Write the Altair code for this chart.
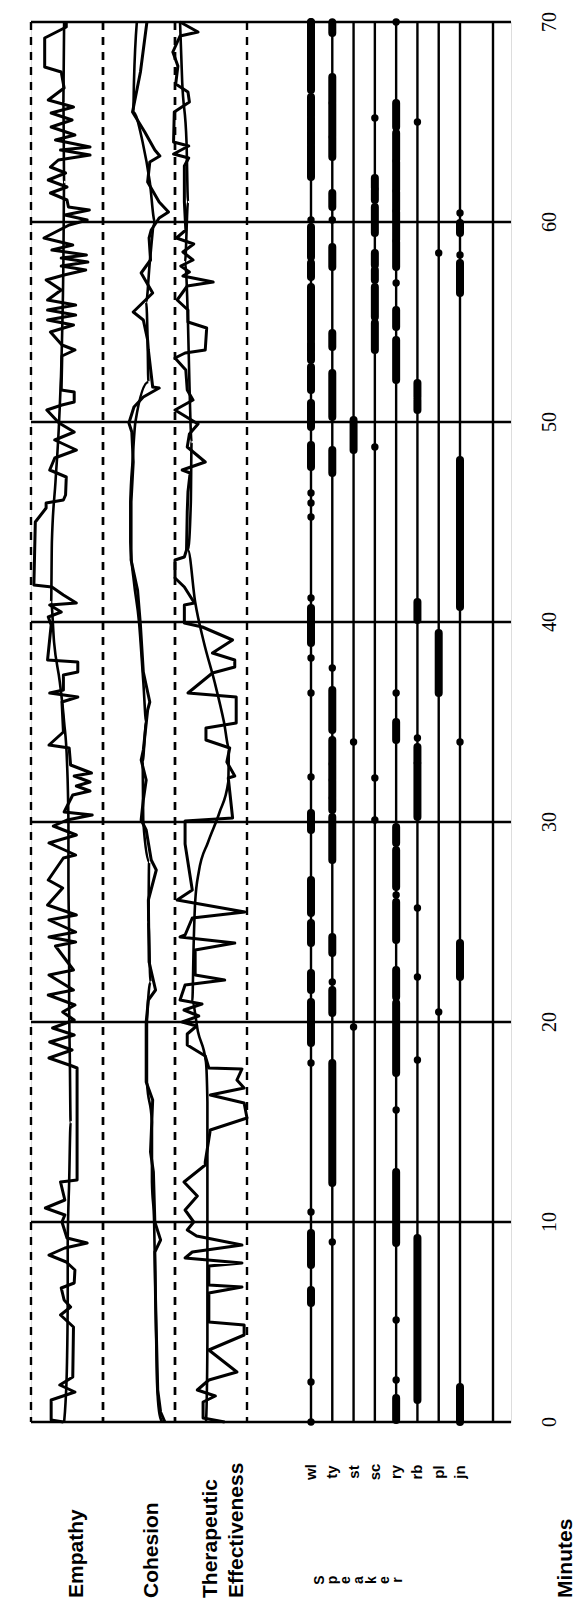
import altair as alt
import pandas as pd

# ---------------- ratings over the session (minute, score 0-10) ----------------
emp_raw = [(70.0, 4.9), (69.75, 4.9), (69.2, 1.9), (67.75, 1.9), (67.5, 4.2), (66.7, 4.6), (66.1, 2.4),
           (65.75, 5.9), (65.45, 2.8), (65.1, 5.7), (64.75, 2.8), (64.35, 6.1), (64.1, 3.4), (63.75, 8.2),
           (63.6, 4.1), (63.35, 8.2), (63.1, 3.8), (62.75, 2.7), (62.45, 4.8), (62.1, 2.4), (61.75, 5.0),
           (61.45, 2.7), (61.1, 5.0), (60.75, 5.2), (60.6, 8.1), (60.35, 4.7), (60.1, 7.8), (59.85, 5.3),
           (59.2, 1.8), (58.85, 5.8), (58.6, 2.9), (58.35, 7.7), (58.2, 4.2), (58.0, 7.9), (57.8, 4.2),
           (57.6, 7.6), (57.35, 4.6), (57.1, 2.1), (56.6, 4.2), (56.1, 2.3), (55.85, 6.2), (55.6, 2.3),
           (55.35, 6.2), (55.1, 2.3), (54.85, 5.9), (54.5, 2.7), (53.85, 4.3), (53.6, 6.1), (53.3, 4.3),
           (51.6, 4.2), (51.5, 6.0), (51.0, 6.0), (50.85, 4.3), (50.6, 2.2), (49.95, 3.9), (49.5, 6.0),
           (49.1, 3.3), (48.6, 6.3), (48.2, 3.3), (47.6, 2.6), (47.25, 4.9), (46.35, 4.8), (46.1, 4.5),
           (45.95, 2.1), (45.7, 2.1), (45.0, 0.6), (41.85, 0.4), (41.75, 2.9), (41.35, 4.5), (40.95, 6.3),
           (40.85, 2.6), (40.5, 4.2), (40.25, 2.4), (39.85, 2.8), (38.1, 2.3), (38.0, 6.5), (37.5, 6.5),
           (37.35, 4.5), (36.6, 4.5), (36.45, 2.6), (36.25, 6.5), (36.0, 4.3), (34.5, 4.5), (33.85, 2.5),
           (33.7, 5.3), (32.85, 5.5), (32.45, 8.4), (32.3, 6.0), (32.0, 8.2), (31.8, 6.3), (31.55, 8.2),
           (31.35, 5.8), (30.5, 4.6), (30.35, 8.5), (30.1, 5.0), (29.8, 3.1), (29.35, 6.3), (28.95, 2.5),
           (28.35, 6.2), (28.2, 4.5), (27.1, 2.4), (26.7, 4.4), (25.85, 2.3), (25.35, 6.3), (25.1, 2.5),
           (24.5, 6.2), (24.25, 2.5), (24.0, 6.2), (23.8, 3.4), (22.6, 5.9), (22.35, 2.5), (21.6, 5.9),
           (21.35, 2.4), (20.85, 6.1), (20.5, 4.4), (20.1, 6.0), (19.7, 3.0), (19.35, 6.0), (19.0, 2.6),
           (18.6, 5.7), (18.2, 2.5), (17.8, 5.7), (17.7, 6.4), (12.1, 6.4), (12.0, 4.1), (11.1, 4.7),
           (10.7, 2.0), (10.35, 4.7), (10.0, 4.3), (9.2, 5.0), (8.95, 7.8), (8.7, 4.7), (8.35, 2.5),
           (8.0, 4.9), (7.6, 6.1), (6.95, 6.0), (6.7, 4.2), (6.1, 4.6), (5.75, 5.5), (5.35, 4.1),
           (4.75, 5.9), (2.25, 5.8), (1.85, 4.0), (1.5, 6.1), (1.1, 2.8), (0.1, 2.8), (0.0, 4.5)]
emp_smooth = [(70, 4.6), (66, 4.5), (62, 4.6), (58, 4.5), (54, 4.3), (50, 3.9), (47, 3.4), (44, 2.9),
              (41, 2.8), (39, 3.2), (37, 4.0), (35, 4.6), (33, 5.0), (30, 5.2), (27, 5.2), (24, 5.3),
              (21, 5.3), (18, 5.4), (15, 5.5), (12, 5.3), (9, 5.1), (6, 5.1), (3, 5.0), (1, 4.8), (0, 4.6)]

coh_raw = [(70, 6.1), (67.5, 5.2), (65.5, 4.1), (64.5, 5.8), (63.6, 7.2), (63.3, 7.9), (63.0, 6.5),
           (62.0, 6.2), (61.0, 7.8), (60.5, 9.1), (60.2, 7.8), (59.6, 6.7), (59.2, 6.4), (58.1, 6.6),
           (57.45, 5.3), (56.45, 6.9), (55.5, 4.2), (55.1, 5.6), (54.1, 6.2), (53.6, 6.3), (51.75, 6.9),
           (51.7, 7.8), (51.25, 5.6), (50.75, 4.3), (49.95, 3.6), (49.5, 4.0), (48, 4.2), (46, 3.9),
           (44, 3.9), (43.1, 3.9), (41.6, 4.8), (39.85, 5.2), (37.5, 5.6), (36.0, 6.5), (35.6, 6.2),
           (33.6, 5.6), (33.1, 5.3), (32.1, 6.0), (31.1, 5.6), (30.1, 5.3), (29.6, 6.0), (28.1, 6.7),
           (27.6, 7.4), (26.1, 6.3), (23, 6.4), (21.6, 7.3), (21.1, 6.3), (20, 6.0), (17, 6.0),
           (16.1, 6.9), (13.5, 6.6), (12.5, 7.0), (10, 7.2), (9.1, 8.0), (8.5, 7.2), (6.1, 7.3),
           (1.6, 7.6), (0.5, 8.0), (0, 8.6)]
coh_smooth = [(70, 4.7), (67, 4.3), (65.5, 4.2), (64, 5.5), (62, 6.5), (60, 7.2), (58, 6.5), (56, 6.0),
              (54, 6.2), (52, 6.3), (50, 4.5), (48, 4.1), (46, 3.8), (44, 3.8), (42, 4.3), (40, 5.0),
              (37, 5.6), (35, 6.0), (33, 5.5), (30, 5.6), (28, 6.4), (25, 6.3), (22, 6.6), (20, 6.1),
              (17, 6.1), (15, 6.8), (12, 6.8), (10, 7.1), (6, 7.3), (2, 7.5), (0.5, 7.8), (0, 8.2)]

te_raw = [(70.0, 0.7), (69.5, 3.2), (69.3, 0.7), (68.5, -0.3), (67.8, 0.4), (66.9, 0.1), (66.5, 1.8),
          (66.0, 2.0), (65.5, -0.1), (64.0, -0.2), (63.8, 1.9), (63.4, -0.2), (63.2, 1.9), (62.8, 1.3),
          (61.0, 1.3), (59.6, 1.5), (59.2, 0.2), (58.9, 2.6), (58.5, 1.1), (58.1, 2.5), (57.8, 0.8),
          (57.5, 2.0), (57.3, 1.1), (57.0, 5.3), (56.8, 1.7), (56.1, 0.3), (55.6, 1.8), (55.0, 1.8),
          (54.7, 4.4), (53.6, 4.2), (53.45, 1.4), (53.2, 0.0), (52.6, 1.5), (51.6, 1.7), (51.1, 2.5),
          (50.6, 0.0), (49.9, 3.2), (49.4, 2.0), (48.75, 1.7), (48.0, 4.2), (47.6, 1.0), (47.45, 2.1),
          (46.5, 1.8), (45.5, 1.7), (43.6, 1.6), (43.25, 1.3), (43.1, 0.0), (42.2, 0.0), (41.75, 1.3),
          (40.95, 2.7), (40.85, 1.3), (39.95, 1.3), (39.75, 3.8), (39.1, 8.0), (38.45, 5.2), (38.1, 8.3),
          (37.75, 8.3), (37.45, 5.2), (36.45, 1.8), (36.25, 8.5), (34.95, 8.5), (34.7, 4.3), (34.1, 4.3),
          (33.7, 7.6), (33.0, 7.2), (32.3, 8.3), (32.2, 7.4), (30.2, 8.0), (30.05, 1.4), (28.9, 1.4),
          (26.6, 2.4), (26.1, 0.3), (25.5, 9.7), (25.2, 2.4), (24.35, 1.4), (24.25, 0.7), (23.95, 8.3),
          (23.6, 2.8), (22.35, 2.8), (22.1, 6.9), (21.85, 1.4), (21.1, 0.7), (20.9, 3.75), (20.6, 1.25),
          (20.3, 3.3), (20.0, 1.0), (19.8, 3.0), (19.4, 1.7), (18.85, 1.7), (18.3, 4.2), (17.7, 4.7),
          (17.65, 9.3), (17.1, 8.6), (16.7, 9.6), (16.35, 4.9), (15.95, 9.6), (15.2, 10.0), (14.6, 4.9),
          (13.0, 4.2), (12.85, 4.2), (12.0, 1.25), (11.3, 3.1), (10.6, 1.4), (10.0, 2.6), (9.6, 1.7),
          (9.3, 3.0), (8.85, 9.3), (8.5, 2.4), (8.2, 1.4), (7.95, 9.3), (7.8, 4.7), (6.85, 4.7),
          (6.75, 9.3), (6.45, 4.7), (5.0, 4.7), (4.85, 9.6), (4.35, 9.6), (3.6, 4.7), (2.5, 8.6),
          (2.1, 4.7), (1.6, 3.1), (1.3, 5.6), (1.0, 3.9), (0.2, 3.9), (0.0, 6.9)]
te_smooth = [(70, 0.7), (67, 1.0), (64, 1.6), (61, 1.8), (58, 1.4), (55, 1.8), (52, 2.0), (49, 2.3),
             (46, 2.2), (43.6, 1.8), (41, 2.8), (39, 4.0), (37, 5.5), (35, 6.8), (33.7, 7.5), (32, 7.4),
             (30.5, 6.2), (29, 4.6), (27.5, 3.3), (26, 2.8), (24, 2.6), (21, 2.4), (19.5, 3.2), (18, 4.3),
             (16, 4.5), (12, 4.5), (8, 4.5), (4, 4.5), (1, 4.4), (0, 4.3)]

# ---------------- who is speaking: (from minute, to minute) and short remarks ----------------
speakers = ["wl", "ty", "st", "sc", "ry", "rb", "pl", "jn"]
turns = {
    "wl": [(66.6, 70.0), (65.3, 66.25), (64.6, 65.2), (63.9, 64.5), (63.1, 63.8), (62.25, 63.0),
           (58.25, 59.75), (57.25, 57.95), (54.1, 56.75), (53.55, 53.95), (53.1, 53.45), (51.6, 52.75),
           (49.75, 50.95), (47.75, 48.85), (38.95, 40.7), (29.6, 30.45), (25.45, 27.1), (23.95, 24.95),
           (21.6, 22.45), (18.95, 21.0), (7.85, 9.45), (6.3, 6.6), (5.95, 6.25)],
    "ty": [(69.45, 69.95), (66.0, 67.25), (64.3, 65.9), (63.25, 64.2), (60.75, 61.45), (57.75, 58.75),
           (53.75, 54.45), (50.25, 52.45), (47.45, 48.6), (34.6, 36.6), (32.95, 34.1), (32.15, 32.85),
           (31.25, 32.05), (30.6, 31.15), (28.1, 30.25), (23.45, 24.25), (20.45, 21.6), (11.95, 17.95)],
    "st": [(48.6, 50.1)],
    "sc": [(61.7, 62.2), (61.1, 61.6), (59.45, 60.75), (57.85, 58.45), (57.1, 57.6), (55.25, 56.75),
           (53.6, 54.95)],
    "ry": [(64.75, 65.95), (63.1, 64.45), (61.6, 63.0), (60.6, 61.5), (59.1, 60.5), (57.75, 59.0),
           (54.75, 55.6), (52.1, 54.1), (34.1, 35.0), (28.95, 29.75), (26.75, 28.6), (24.1, 26.0),
           (21.25, 22.6), (17.45, 20.95), (8.95, 12.5), (0.1, 1.2)],
    "rb": [(51.25, 51.95), (50.6, 51.1), (40.1, 41.0), (33.0, 33.75), (30.25, 32.9), (1.1, 9.2)],
    "pl": [(36.45, 39.45)],
    "jn": [(59.45, 59.95), (56.45, 57.95), (40.75, 48.1), (22.25, 23.95), (0.0, 1.75)],
}
remarks = {
    "wl": [70.0, 60.1, 46.45, 45.95, 45.25, 41.2, 38.2, 36.45, 32.25, 17.95, 10.5, 2.0, 0.0],
    "ty": [70.0, 60.1, 37.7, 22.0, 9.0],
    "st": [34.0, 19.75],
    "sc": [65.2, 48.75, 32.2, 30.1],
    "ry": [70.0, 56.95, 36.45, 26.35, 15.6, 5.1, 2.1],
    "rb": [65.0, 34.2, 25.7, 22.25, 18.1],
    "pl": [58.45, 20.5],
    "jn": [60.45, 58.35, 34.0],
}

minute_ticks = [0, 10, 20, 30, 40, 50, 60, 70]
panel_edges = [0, 10]
speaker_word = ["S", "p", "e", "a", "k", "e", "r"]

# ---------------- tables ----------------
def series(points):
    return pd.DataFrame(points, columns=["minute", "score"])

turn_df = pd.DataFrame([(s, a, b) for s in speakers for a, b in turns[s]],
                       columns=["speaker", "start", "end"])
remark_df = pd.DataFrame([(s, m) for s in speakers for m in remarks[s]],
                         columns=["speaker", "minute"])

W, H = 480, 1400
ink = "black"
y_min = alt.Scale(domain=[0, 70], nice=False, zero=False)


def rating_panel(raw, smooth, x0):
    sc = alt.Scale(domain=[0, 10], range=[x0, x0 + 72], nice=False, zero=False)
    edges = alt.Chart(pd.DataFrame({"edge": panel_edges})).mark_rule(
        color=ink, strokeWidth=2.4, strokeDash=[8, 7]
    ).encode(x=alt.X("edge:Q", scale=sc, axis=None))
    smooth_line = alt.Chart(series(smooth)).mark_line(color=ink, strokeWidth=2.6, interpolate="monotone").encode(
        x=alt.X("score:Q", scale=sc, axis=None),
        y=alt.Y("minute:Q", scale=y_min, axis=None),
        order=alt.Order("minute:Q"),
    )
    raw_line = alt.Chart(series(raw)).mark_line(color=ink, strokeWidth=3, strokeJoin="round").encode(
        x=alt.X("score:Q", scale=sc, axis=None),
        y=alt.Y("minute:Q", scale=y_min, axis=None),
        order=alt.Order("minute:Q"),
    )
    return alt.layer(edges, smooth_line, raw_line)


grid = alt.Chart(pd.DataFrame({"minute": minute_ticks})).mark_rule(color=ink, strokeWidth=2.5).encode(
    y=alt.Y("minute:Q", scale=y_min, axis=None)
)
tick_labels = alt.Chart(pd.DataFrame({"minute": minute_ticks})).mark_text(
    angle=270, font="Liberation Serif", fontSize=20, color=ink, align="center", baseline="middle"
).encode(x=alt.value(W + 39), y=alt.Y("minute:Q", scale=y_min, axis=None), text="minute:Q")

spk_scale = alt.Scale(type="point", domain=speakers, range=[280, 429], padding=0)
spk_x = alt.X("speaker:N", scale=spk_scale, axis=None)

spk_lines = alt.Chart(pd.DataFrame({"speaker": speakers})).mark_rule(color=ink, strokeWidth=2.4).encode(x=spk_x)
spk_turns = alt.Chart(turn_df).mark_rule(color=ink, strokeWidth=8, strokeCap="round").encode(
    x=spk_x, y=alt.Y("start:Q", scale=y_min, axis=None), y2="end:Q")
spk_remarks = alt.Chart(remark_df).mark_circle(color=ink, opacity=1, size=55).encode(
    x=spk_x, y=alt.Y("minute:Q", scale=y_min, axis=None))
spk_codes = alt.Chart(pd.DataFrame({"speaker": speakers})).mark_text(
    angle=270, font="Liberation Sans", fontWeight="bold", fontSize=15, color=ink,
    align="center", baseline="middle"
).encode(x=spk_x, y=alt.value(H + 50), text="speaker:N")
speaker_panel = alt.layer(spk_lines, spk_turns, spk_remarks, spk_codes)

border = alt.Chart(pd.DataFrame({"minute": [0]})).mark_rule(color=ink, strokeWidth=2.4).encode(
    x=alt.value(462), y=alt.value(0), y2=alt.value(H))

# rotated row labels start at the bottom and read upward
label_style = dict(angle=270, font="Liberation Sans", fontWeight="bold", fontSize=21, color=ink,
                   align="left", baseline="middle")


def label(text, x, y):
    return alt.Chart(pd.DataFrame({"t": [text]})).mark_text(**label_style).encode(
        x=alt.value(x), y=alt.value(y), text="t:N")


letters = alt.Chart(pd.DataFrame({"t": speaker_word, "k": list(range(len(speaker_word)))})).mark_text(
    angle=270, font="Liberation Sans", fontWeight="bold", fontSize=14, color=ink,
    align="center", baseline="middle"
).encode(x=alt.X("k:Q", scale=alt.Scale(domain=[0, 6], range=[289, 367]), axis=None),
         y=alt.value(H + 158), text="t:N")

chart = alt.layer(
    grid,
    tick_labels,
    rating_panel(emp_raw, emp_smooth, 0),
    rating_panel(coh_raw, coh_smooth, 72),
    rating_panel(te_raw, te_smooth, 144),
    speaker_panel,
    border,
    label("Empathy", 46, H + 176),
    label("Cohesion", 121, H + 176),
    label("Therapeutic", 180, H + 176),
    label("Effectiveness", 206, H + 176),
    label("Minutes", 535, H + 176),
    letters,
).resolve_scale(x="independent").properties(
    width=W, height=H,
    padding={"left": 31, "top": 22, "right": 70, "bottom": 186},
    autosize="none",
).configure_view(stroke=None).configure(background="white")

chart.save("out.html", embed_options={"renderer": "svg", "actions": False})
